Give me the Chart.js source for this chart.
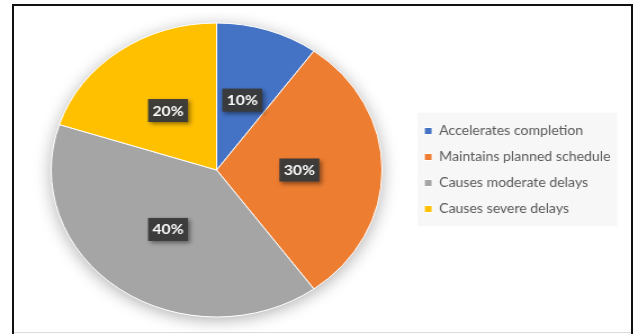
<!DOCTYPE html>
<html>
<head>
<meta charset="utf-8">
<script src="https://cdn.jsdelivr.net/npm/chart.js@4/dist/chart.umd.min.js"></script>
<style>
  html, body { margin: 0; padding: 0; background: #fff; width: 638px; height: 334px; overflow: hidden; }
  /* the chart is laid out at 567px and widened to fill the 638px frame */
  #stage { position: absolute; left: 0; top: 0; width: 567px; height: 334px; transform: scaleX(1.1252); transform-origin: 0 0; }
  #frame { position: absolute; left: 12px; top: 4px; width: 621px; height: 340px; border: 2px solid #111; border-bottom: 0; box-sizing: border-box; pointer-events: none; }
  #base { position: absolute; left: 14px; top: 332px; width: 617px; height: 1px; background: #dcdcdc; }
</style>
</head>
<body>
<div id="stage"><canvas id="chart"></canvas></div>
<div id="frame"></div>
<div id="base"></div>
<script>
const categories = ['Accelerates completion', 'Maintains planned schedule', 'Causes moderate delays', 'Causes severe delays'];
const shares = [10, 30, 40, 20];
const sliceColors = ['#4472C4', '#ED7D31', '#A5A5A5', '#FFC000'];

// faint panel behind the legend entries
const legendPanel = {
  id: 'legendPanel',
  beforeDraw(chart) {
    const boxes = chart.legend && chart.legend.legendHitBoxes;
    if (!boxes || !boxes.length) return;
    const left = Math.min(...boxes.map(b => b.left)) - 6;
    const right = Math.max(...boxes.map(b => b.left + b.width)) + 6;
    const top = boxes[0].top - 12;
    const last = boxes[boxes.length - 1];
    const bottom = last.top + last.height + 11;
    const ctx = chart.ctx;
    ctx.save();
    ctx.fillStyle = '#f7f7f7';
    ctx.fillRect(left, top, right - left, bottom - top);
    ctx.restore();
  }
};

// soft drop shadow under the whole pie
const pieShadow = {
  id: 'pieShadow',
  beforeDatasetsDraw(chart) {
    const arc = chart.getDatasetMeta(0).data[0];
    if (!arc) return;
    const ctx = chart.ctx;
    ctx.save();
    ctx.shadowColor = 'rgba(0,0,0,0.32)';
    ctx.shadowBlur = 16;
    ctx.shadowOffsetY = 3;
    ctx.fillStyle = '#ffffff';
    ctx.beginPath();
    ctx.arc(arc.x, arc.y, arc.outerRadius, 0, Math.PI * 2);
    ctx.fill();
    ctx.restore();
  }
};

// dark value tags placed halfway out along each slice
const sliceLabels = {
  id: 'sliceLabels',
  afterDatasetsDraw(chart) {
    const ctx = chart.ctx;
    const meta = chart.getDatasetMeta(0);
    meta.data.forEach((arc, i) => {
      const mid = (arc.startAngle + arc.endAngle) / 2;
      const r = arc.outerRadius * 0.5;
      const px = arc.x + Math.cos(mid) * r;
      const py = arc.y + Math.sin(mid) * r;
      const w = 35.5, h = 23;
      ctx.save();
      ctx.shadowColor = 'rgba(0,0,0,0.45)';
      ctx.shadowBlur = 4;
      ctx.shadowOffsetX = 2;
      ctx.shadowOffsetY = 2;
      ctx.fillStyle = 'rgba(58,58,58,0.96)';
      ctx.fillRect(px - w / 2, py - h / 2, w, h);
      ctx.restore();
      ctx.save();
      ctx.fillStyle = '#ffffff';
      ctx.font = 'bold 14px Lato';
      ctx.textAlign = 'center';
      ctx.textBaseline = 'middle';
      ctx.fillText(shares[i] + '%', px, py + 0.5);
      ctx.restore();
    });
  }
};

new Chart(document.getElementById('chart'), {
  type: 'pie',
  data: {
    labels: categories,
    datasets: [{
      data: shares,
      backgroundColor: sliceColors,
      borderColor: '#ffffff',
      borderWidth: 1
    }]
  },
  options: {
    responsive: true,
    maintainAspectRatio: false,
    animation: false,
    radius: 147,
    layout: { padding: { left: 21.5, right: 14.5, top: 23, bottom: 17 } },
    plugins: {
      legend: {
        position: 'right',
        align: 'center',
        labels: {
          boxWidth: 7,
          boxHeight: 7,
          padding: 13.5,
          color: '#595959',
          font: { family: 'Lato', size: 12.5 }
        }
      },
      tooltip: { enabled: false }
    }
  },
  plugins: [legendPanel, pieShadow, sliceLabels]
});
</script>
</body>
</html>
